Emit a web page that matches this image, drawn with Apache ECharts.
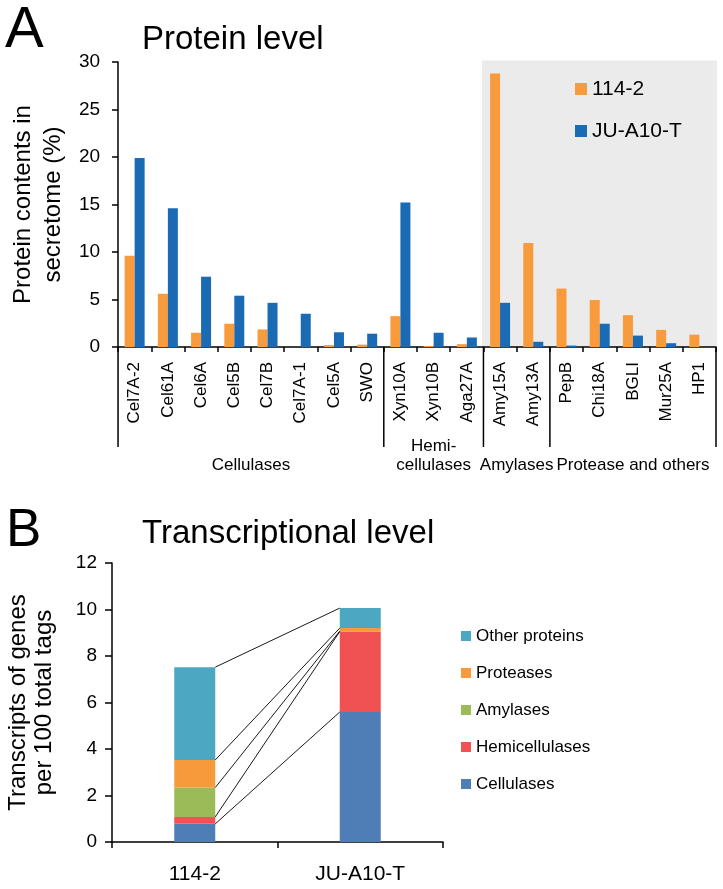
<!DOCTYPE html>
<html>
<head>
<meta charset="utf-8">
<script src="https://cdn.jsdelivr.net/npm/echarts@6/dist/echarts.min.js"></script>
<style>
html,body{margin:0;padding:0;background:#fff;}
#chart{width:723px;height:889px;}
</style>
</head>
<body>
<div id="chart"></div>
<script>
// ---------- Panel A data ----------
const proteinCategories = ['Cel7A-2','Cel61A','Cel6A','Cel5B','Cel7B','Cel7A-1','Cel5A','SWO','Xyn10A','Xyn10B','Aga27A','Amy15A','Amy13A','PepB','Chi18A','BGLI','Mur25A','HP1'];
const protein114 = [9.6, 5.6, 1.5, 2.45, 1.85, 0, 0.2, 0.25, 3.25, 0.1, 0.3, 28.8, 10.95, 6.15, 4.95, 3.35, 1.8, 1.3];
const proteinJU  = [19.9, 14.6, 7.4, 5.4, 4.65, 3.5, 1.55, 1.4, 15.2, 1.5, 1.0, 4.65, 0.55, 0.15, 2.45, 1.2, 0.4, 0];
const groupNames = ['Cellulases', 'Hemi-\ncellulases', 'Amylases', 'Protease and others'];
const groupSizes = [8, 3, 2, 5];
const shadedFrom = 'Amy15A';
const yTicksA = { min: 0, max: 30, interval: 5 };

// ---------- Panel B data ----------
const strains = ['114-2', 'JU-A10-T'];
const classNames = ['Cellulases', 'Hemicellulases', 'Amylases', 'Proteases', 'Other proteins'];
const tx114 = [0.78, 0.30, 1.26, 1.19, 3.99];
const txJU  = [5.59, 3.46, 0.02, 0.13, 0.86];
const yTicksB = { min: 0, max: 12, interval: 2 };

// ---------- styles ----------
const FONT = 'Liberation Sans, Arial, Helvetica, sans-serif';
const colA = ['#F79B3D', '#1B6AB4'];
const colB = ['#4F7DB6', '#F05253', '#9BBB59', '#F79A3C', '#4BA7C2'];
const barWB = 41;

const groupStarts = [];
{ let s = 0; groupSizes.forEach(n => { groupStarts.push(s); s += n; }); }
const groupData = groupNames.map((n, i) => [groupStarts[i], groupSizes[i], i]);

const cum114 = [], cumJU = [];
{ let a = 0, b = 0; for (let i = 0; i < classNames.length; i++) { a += tx114[i]; b += txJU[i]; cum114.push(a); cumJU.push(b); } }
const connData = classNames.map((n, i) => [0, cum114[i], cumJU[i]]);

const chart = echarts.init(document.getElementById('chart'), null, { renderer: 'canvas' });

const axisLineStyle = { color: '#000', width: 1.5 };

const option = {
  animation: false,
  backgroundColor: '#fff',
  textStyle: { fontFamily: FONT, color: '#000' },
  title: [
    { text: 'A', left: 5, top: 2, padding: 0, textStyle: { fontSize: 58, fontWeight: 'normal', fontFamily: FONT, color: '#000' } },
    { text: 'Protein level', left: 142, top: 23, padding: 0, textStyle: { fontSize: 33, fontWeight: 'normal', fontFamily: FONT, color: '#000' } },
    { text: 'B', left: 6, top: 505, padding: 0, textStyle: { fontSize: 53, fontWeight: 'normal', fontFamily: FONT, color: '#000' } },
    { text: 'Transcriptional level', left: 142, top: 517, padding: 0, textStyle: { fontSize: 33, fontWeight: 'normal', fontFamily: FONT, color: '#000' } }
  ],
  legend: [
    {
      data: ['114-2', 'JU-A10-T'], orient: 'vertical', left: 575, top: 78, padding: 0,
      icon: 'rect', itemWidth: 12, itemHeight: 12, itemGap: 20,
      textStyle: { fontSize: 21, lineHeight: 22, fontFamily: FONT, color: '#000' }
    },
    {
      data: classNames.slice().reverse(), orient: 'vertical', left: 461, top: 627, padding: 0,
      icon: 'rect', itemWidth: 10, itemHeight: 10, itemGap: 19,
      textStyle: { fontSize: 17, lineHeight: 18, fontFamily: FONT, color: '#000' }
    }
  ],
  grid: [
    { left: 112, top: 62, width: 604, height: 285 },
    { left: 112, top: 563, width: 331, height: 279 }
  ],
  xAxis: [
    {
      type: 'category', gridIndex: 0, data: proteinCategories,
      axisLine: { lineStyle: axisLineStyle },
      axisTick: { show: true, alignWithLabel: false, length: 5, lineStyle: { color: '#000', width: 1.5 } },
      axisLabel: { rotate: 90, margin: 15, fontSize: 17, color: '#000', fontFamily: FONT, interval: 0 }
    },
    {
      type: 'category', gridIndex: 1, data: strains,
      axisLine: { lineStyle: axisLineStyle },
      axisTick: { show: true, alignWithLabel: false, length: 6, lineStyle: { color: '#000', width: 1.5 } },
      axisLabel: { margin: 22, fontSize: 21, color: '#000', fontFamily: FONT }
    }
  ],
  yAxis: [
    {
      type: 'value', gridIndex: 0, min: yTicksA.min, max: yTicksA.max, interval: yTicksA.interval,
      name: 'Protein contents in\nsecretome (%)', nameLocation: 'middle', nameGap: 47, nameRotate: 90,
      nameTextStyle: { fontSize: 24, lineHeight: 30, color: '#000', fontFamily: FONT },
      axisLine: { show: true, lineStyle: axisLineStyle },
      axisTick: { show: true, length: 6, lineStyle: { color: '#000', width: 1.5 } },
      axisLabel: { margin: 18, fontSize: 19, color: '#000', fontFamily: FONT },
      splitLine: { show: false }
    },
    {
      type: 'value', gridIndex: 1, min: yTicksB.min, max: yTicksB.max, interval: yTicksB.interval,
      name: 'Transcripts of genes\nper 100 total tags', nameLocation: 'middle', nameGap: 55, nameRotate: 90,
      nameTextStyle: { fontSize: 24, lineHeight: 26, color: '#000', fontFamily: FONT },
      axisLine: { show: true, lineStyle: axisLineStyle },
      axisTick: { show: true, length: 7, lineStyle: { color: '#000', width: 1.5 } },
      axisLabel: { margin: 15, fontSize: 19, color: '#000', fontFamily: FONT },
      splitLine: { show: false }
    }
  ],
  series: [
    // gray shaded area (panel A)
    {
      type: 'custom', xAxisIndex: 0, yAxisIndex: 0, silent: true, z: 0,
      data: [[proteinCategories.indexOf(shadedFrom), yTicksA.max]],
      encode: { x: 0, y: 1 },
      renderItem: function (params, api) {
        const bw = api.size([1, 0])[0];
        const start = api.value(0);
        const p0 = api.coord([start, api.value(1)]);
        const pEnd = api.coord([proteinCategories.length - 1, 0]);
        const x0 = p0[0] - bw / 2 - 1.5;
        const x1 = pEnd[0] + bw / 2;
        return { type: 'rect', shape: { x: x0, y: p0[1] - 1.5, width: x1 - x0 + 1, height: pEnd[1] - p0[1] + 1.5 }, style: { fill: '#EBEBEB' } };
      }
    },
    {
      name: '114-2', type: 'bar', xAxisIndex: 0, yAxisIndex: 0, data: protein114, z: 2,
      barWidth: 10, barGap: '0%', itemStyle: { color: colA[0] }
    },
    {
      name: 'JU-A10-T', type: 'bar', xAxisIndex: 0, yAxisIndex: 0, data: proteinJU, z: 2,
      barWidth: 10, barGap: '0%', itemStyle: { color: colA[1] }
    },
    // group separators and labels (panel A)
    {
      type: 'custom', xAxisIndex: 0, yAxisIndex: 0, silent: true, z: 5,
      data: groupData,
      encode: { x: 0, y: 1 },
      renderItem: function (params, api) {
        const i = params.dataIndex;
        const bw = api.size([1, 0])[0];
        const start = api.value(0), count = api.value(1);
        const pS = api.coord([start, 0]);
        const pE = api.coord([start + count - 1, 0]);
        const xL = pS[0] - bw / 2, xR = pE[0] + bw / 2;
        const y0 = pS[1];
        const children = [
          { type: 'line', shape: { x1: xL, y1: y0, x2: xL, y2: y0 + 100 }, style: { stroke: '#000', lineWidth: 1.5 } },
          { type: 'text', style: { text: groupNames[i], x: (xL + xR) / 2, y: y0 + 128, align: 'center', verticalAlign: 'bottom', fontSize: 17, lineHeight: 19, fontFamily: FONT, fill: '#000' } }
        ];
        if (i === groupNames.length - 1) {
          children.push({ type: 'line', shape: { x1: xR, y1: y0, x2: xR, y2: y0 + 100 }, style: { stroke: '#000', lineWidth: 1.5 } });
        }
        return { type: 'group', children: children };
      }
    },
    // panel B stacked bars
    ...classNames.map((n, i) => ({
      name: n, type: 'bar', xAxisIndex: 1, yAxisIndex: 1, stack: 'tx', z: 2,
      barWidth: barWB, data: [tx114[i], txJU[i]], itemStyle: { color: colB[i] }
    })),
    // connectors (panel B)
    {
      type: 'custom', xAxisIndex: 1, yAxisIndex: 1, silent: true, z: 4,
      data: connData,
      encode: { x: 0, y: [1, 2] },
      renderItem: function (params, api) {
        const p1 = api.coord([0, api.value(1)]);
        const p2 = api.coord([1, api.value(2)]);
        return { type: 'line', shape: { x1: p1[0] + barWB / 2, y1: p1[1], x2: p2[0] - barWB / 2, y2: p2[1] }, style: { stroke: '#000', lineWidth: 0.9 } };
      }
    }
  ]
};
chart.setOption(option);
</script>
</body>
</html>
